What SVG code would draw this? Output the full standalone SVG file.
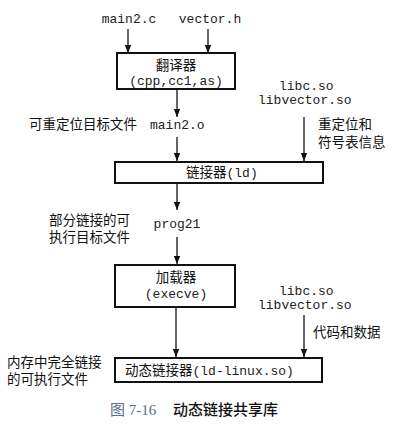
<svg xmlns="http://www.w3.org/2000/svg" width="400" height="425" viewBox="0 0 400 425">
  <style>
    .box { fill: #fff; stroke: #111; stroke-width: 2; }
    .mono { font-family: "Liberation Mono", "DejaVu Sans Mono", monospace; font-size: 13px; fill: #222; }
    .cjk { font-family: "Noto Sans CJK SC", "Noto Sans", sans-serif; font-size: 13.5px; fill: #111; }
    .mid { text-anchor: middle; }
    .edge { stroke: #111; stroke-width: 1.3; fill: none; marker-end: url(#arrow); }
    .cap { font-family: "Liberation Serif", "Noto Sans CJK SC", serif; font-size: 15px; fill: #5a6f8c; }
    .capt { font-family: "Noto Sans CJK SC", sans-serif; font-size: 15px; fill: #111; font-weight: 500; }
  </style>
  <defs>
    <marker id="arrow" viewBox="0 0 8 10" refX="8" refY="5" markerWidth="8" markerHeight="10" markerUnits="userSpaceOnUse" orient="auto">
      <path d="M0,1.8 L8,5 L0,8.2 Z" fill="#111"/>
    </marker>
  </defs>
  <rect width="400" height="425" fill="#fff"/>

  <!-- input files -->
  <g id="src-main2c"><text class="mono mid" x="129" y="23">main2.c</text></g>
  <g id="src-vectorh"><text class="mono mid" x="210" y="23">vector.h</text></g>

  <!-- translator -->
  <g id="translator">
    <rect class="box" x="117" y="53" width="118" height="36"/>
    <text class="cjk mid" x="176" y="70">翻译器</text>
    <text class="mono mid" x="176" y="85">(cpp,cc1,as)</text>
  </g>

  <g id="libs-1">
    <text class="mono" x="279" y="90">libc.so</text>
    <text class="mono" x="258" y="104">libvector.so</text>
  </g>
  <g id="label-reloc">
    <text class="cjk" x="318" y="129">重定位和</text>
    <text class="cjk" x="318" y="147">符号表信息</text>
  </g>

  <g id="main2o">
    <text class="cjk" x="29" y="129">可重定位目标文件</text>
    <text class="mono" x="150" y="129">main2.o</text>
  </g>

  <!-- static linker -->
  <g id="linker">
    <rect class="box" x="115" y="162" width="208" height="21"/>
    <text class="cjk" x="186" y="177">链接器<tspan class="mono">(ld)</tspan></text>
  </g>

  <g id="prog21">
    <text class="mono mid" x="177" y="228">prog21</text>
    <text class="cjk" x="49" y="225">部分链接的可</text>
    <text class="cjk" x="49" y="242">执行目标文件</text>
  </g>

  <!-- loader -->
  <g id="loader">
    <rect class="box" x="115" y="265" width="120" height="42"/>
    <text class="cjk mid" x="176" y="282">加载器</text>
    <text class="mono mid" x="176" y="298">(execve)</text>
  </g>

  <g id="libs-2">
    <text class="mono" x="279" y="295">libc.so</text>
    <text class="mono" x="258" y="309">libvector.so</text>
  </g>
  <g id="label-code">
    <text class="cjk" x="313" y="337">代码和数据</text>
  </g>

  <!-- dynamic linker -->
  <g id="dyn-linker">
    <rect class="box" x="115" y="358" width="207" height="24"/>
    <text class="cjk" x="125" y="375">动态链接器<tspan class="mono">(ld-linux.so)</tspan></text>
  </g>
  <g id="label-exec">
    <text class="cjk" x="7" y="367">内存中完全链接</text>
    <text class="cjk" x="7" y="384">的可执行文件</text>
  </g>

  <g id="connectors">
    <line class="edge" x1="128" y1="29" x2="128" y2="53"/>
    <line class="edge" x1="208" y1="29" x2="208" y2="53"/>
    <line class="edge" x1="177" y1="89" x2="177" y2="117"/>
    <line class="edge" x1="177" y1="137" x2="177" y2="161"/>
    <line class="edge" x1="304" y1="117" x2="304" y2="161"/>
    <line class="edge" x1="177" y1="183" x2="177" y2="210"/>
    <line class="edge" x1="177" y1="237" x2="177" y2="264"/>
    <line class="edge" x1="176" y1="307" x2="176" y2="357"/>
    <line class="edge" x1="304" y1="315" x2="304" y2="357"/>
  </g>

  <!-- caption -->
  <g id="caption">
    <text class="cap" x="110" y="415">图 7-16</text>
    <text class="capt" x="173" y="415">动态链接共享库</text>
  </g>
</svg>
